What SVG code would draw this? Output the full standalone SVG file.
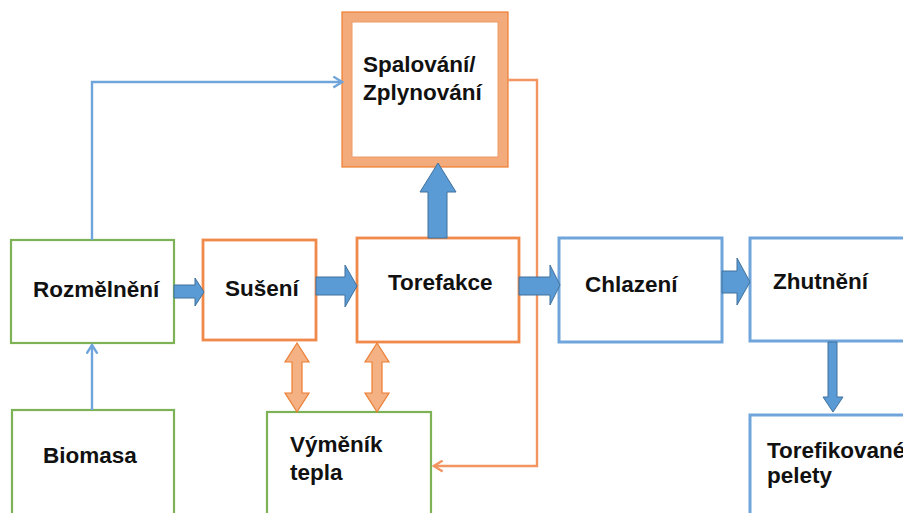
<svg xmlns="http://www.w3.org/2000/svg" width="903" height="513" viewBox="0 0 903 513">
<defs>
<style>
.box{fill:#fff;stroke-width:2.2}
.g{stroke:#7DB356}
.o{stroke:#F08A4B;stroke-width:2.8}
.b{stroke:#6FA5DA;stroke-width:3}
.t{font-family:"Liberation Sans",Arial,sans-serif;font-weight:bold;font-size:22.5px;fill:#111}
.ba{fill:#5B9BD5;stroke:#41719C;stroke-width:1}
.oa{fill:#F4B183;stroke:#ED7D31;stroke-width:1.2}
.ln{fill:none;stroke-width:2.4}
</style>
<marker id="ab" markerWidth="13" markerHeight="13" viewBox="0 0 10 12" refX="9" refY="6" orient="auto" markerUnits="userSpaceOnUse">
<path d="M1,1 L9,6 L1,11" fill="none" stroke="#6FA5DA" stroke-width="2.2"/>
</marker>
<marker id="ao" markerWidth="13" markerHeight="13" viewBox="0 0 10 12" refX="9" refY="6" orient="auto" markerUnits="userSpaceOnUse">
<path d="M1,1 L9,6 L1,11" fill="none" stroke="#F29560" stroke-width="2.2"/>
</marker>
</defs>
<rect width="903" height="513" fill="#fff"/>
<g id="spalovani">
<rect x="347" y="17" width="156" height="145" fill="#fff" stroke="#F4AB7C" stroke-width="10"/>
<rect x="342" y="12" width="166" height="155" fill="none" stroke="#ED7D31" stroke-width="1.2"/>
<rect x="352" y="22" width="146" height="135" fill="none" stroke="#EE9A66" stroke-width="1"/>
<text class="t" x="363" y="72">Spalování/</text>
<text class="t" x="363" y="100">Zplynování</text>
</g>
<g id="rozmelneni">
<rect class="box g" x="11" y="240" width="163" height="103"/>
<text class="t" x="33" y="297">Rozmělnění</text>
</g>
<g id="suseni">
<rect class="box o" x="203" y="240" width="113" height="100"/>
<text class="t" x="225" y="296">Sušení</text>
</g>
<g id="torefakce">
<rect class="box o" x="357" y="238" width="162" height="104"/>
<text class="t" x="388" y="290">Torefakce</text>
</g>
<g id="chlazeni">
<rect class="box b" x="559" y="238" width="163" height="104"/>
<text class="t" x="585" y="292">Chlazení</text>
</g>
<g id="zhutneni">
<rect class="box b" x="750" y="238" width="170" height="103"/>
<text class="t" x="773" y="289">Zhutnění</text>
</g>
<g id="biomasa">
<rect class="box g" x="12" y="410" width="162" height="120"/>
<text class="t" x="43" y="463">Biomasa</text>
</g>
<g id="vymenik">
<rect class="box g" x="267" y="412" width="164" height="120"/>
<text class="t" x="290" y="452">Výměník</text>
<text class="t" x="290" y="480">tepla</text>
</g>
<g id="pelety">
<rect class="box b" x="750" y="415" width="170" height="120"/>
<text class="t" x="767" y="458">Torefikované</text>
<text class="t" x="767" y="483">pelety</text>
</g>
<g id="connectors">
<path class="ln" stroke="#6FA5DA" d="M92,240 V82 H342" marker-end="url(#ab)"/>
<path class="ln" stroke="#6FA5DA" d="M92,410 V345" marker-end="url(#ab)"/>
<path class="ln" stroke="#F29560" d="M508,80 H537 V466 H434" marker-end="url(#ao)"/>
<polygon class="ba" points="174,285 195,285 195,278 204,292 195,306 195,298 174,298"/>
<polygon class="ba" points="316,277 345,277 345,265 357,286 345,307 345,295 316,295"/>
<polygon class="ba" points="519,277 550,277 550,265 560,285 550,305 550,295 519,295"/>
<polygon class="ba" points="722,271 737,271 737,258 750,282 737,305 737,293 722,293"/>
<polygon class="ba" points="428,238 428,192 420,192 438,163 456,192 447,192 447,238"/>
<polygon class="ba" points="828,342 837,342 837,397 843,397 833,412 823,397 828,397"/>
<polygon class="oa" points="297,343 309,362 302,362 302,393 309,393 297,412 285,393 292,393 292,362 285,362"/>
<polygon class="oa" points="377,343 389,362 382,362 382,393 389,393 377,412 365,393 372,393 372,362 365,362"/>
</g>
</svg>
